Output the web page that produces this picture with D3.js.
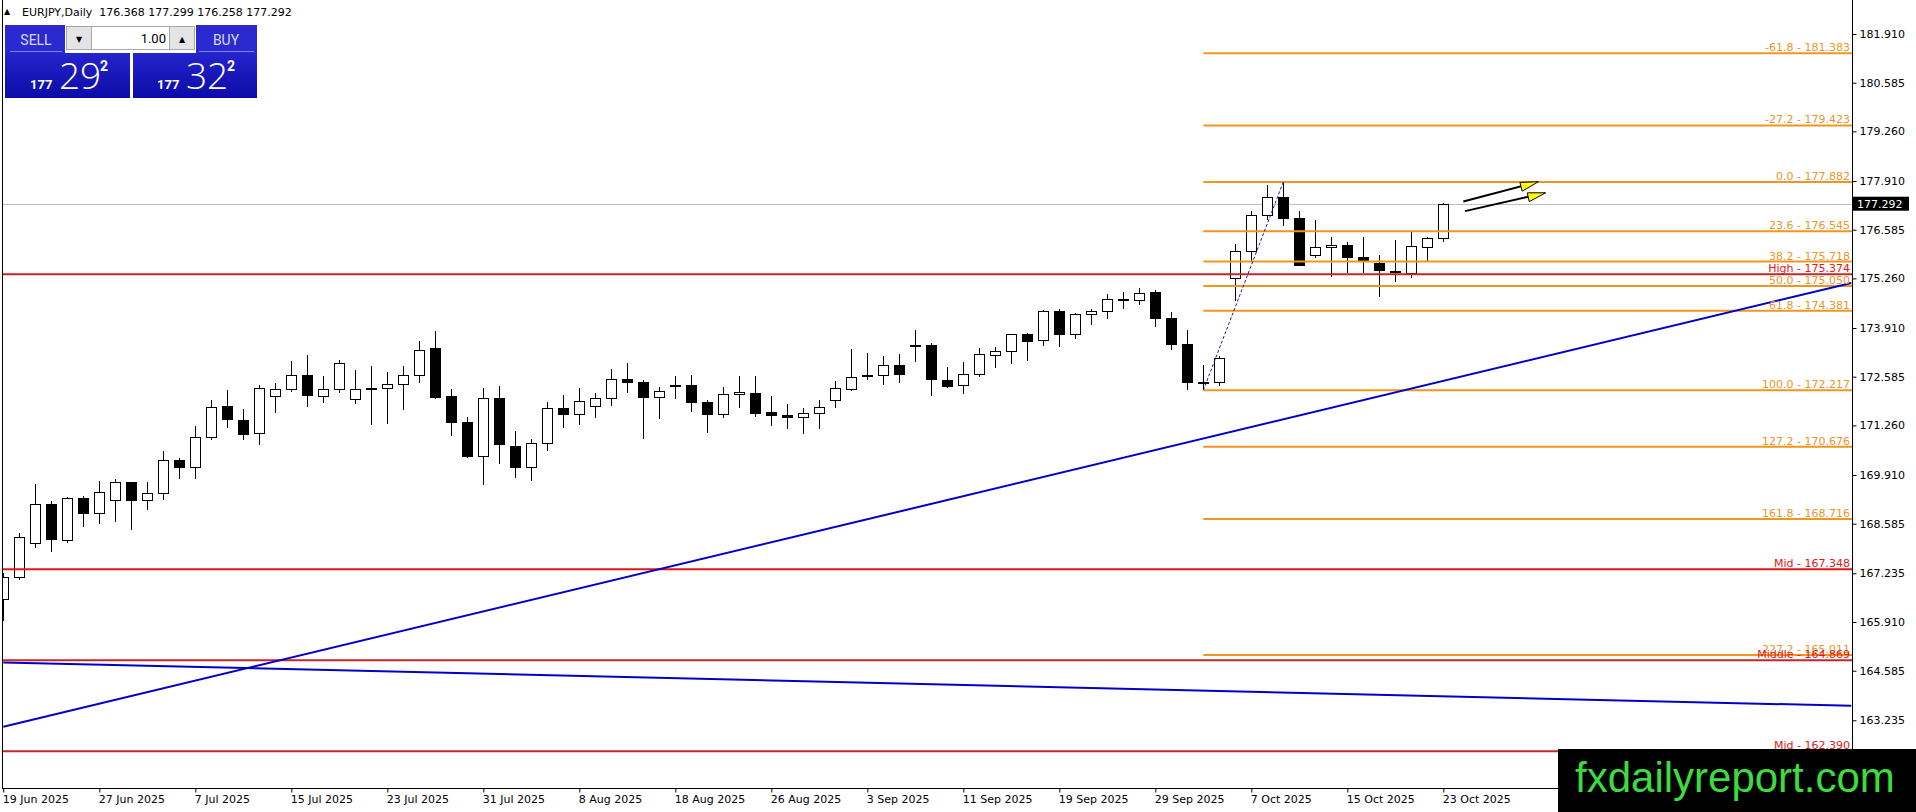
<!DOCTYPE html>
<html>
<head>
<meta charset="utf-8">
<script src="https://cdn.jsdelivr.net/npm/d3@7"></script>
<style>
body { margin: 0; background: #fff; overflow: hidden; }
svg { display: block; font-family: "DejaVu Sans", sans-serif; }
</style>
</head>
<body>
<svg id="chart" width="1916" height="812"></svg>
<script>
// EURJPY daily candles, 19 Jun 2025 .. 23 Oct 2025
const opens = [166.53,167.13,168.05,169.11,168.15,169.28,168.87,169.22,169.71,169.22,
  169.41,170.31,170.12,170.94,171.79,171.41,171.04,172.04,172.24,172.62,
  172.05,172.24,171.97,172.27,172.26,172.38,172.62,173.36,172.05,171.34,
  170.42,172.00,170.69,170.12,170.77,171.72,171.56,171.77,172.00,172.51,
  172.44,172.02,172.37,172.35,171.89,171.56,172.11,172.13,171.62,171.54,
  171.48,171.58,171.94,172.27,172.62,172.62,172.89,173.43,173.44,172.49,
  172.35,172.65,173.17,173.28,173.74,173.56,174.36,173.74,174.28,174.36,
  174.69,174.66,174.88,174.18,173.47,172.43,172.43,175.26,176.00,176.98,
  177.47,176.91,175.89,176.11,176.16,175.83,175.68,175.46,175.40,176.13,176.368];
const highs = [167.24,168.32,169.67,169.19,169.30,169.34,169.74,169.80,169.72,169.71,
  170.56,170.36,171.24,171.95,172.22,171.70,172.35,172.41,173.01,173.18,
  172.60,173.03,172.77,172.88,172.70,172.88,173.56,173.83,172.25,171.48,
  172.27,172.32,171.10,170.88,171.89,172.09,172.27,172.13,172.79,172.96,
  172.49,172.30,172.60,172.62,171.94,172.30,172.60,172.60,172.06,171.84,
  171.72,171.94,172.46,173.34,173.22,173.14,173.19,173.85,173.49,172.85,
  172.98,173.37,173.38,173.74,173.78,174.40,174.42,174.32,174.42,174.84,
  174.89,175.00,174.94,174.34,173.86,172.89,173.16,176.20,177.08,177.80,
  177.882,177.08,176.85,176.38,176.25,176.38,175.89,176.30,176.52,176.39,177.299];
const lows = [165.95,167.04,167.93,167.82,168.07,168.49,168.57,168.64,168.40,168.97,
  169.24,169.79,169.81,170.86,171.20,170.87,170.73,171.61,172.18,171.77,
  171.88,172.15,171.85,171.28,171.31,171.69,172.41,171.99,170.98,170.38,
  169.65,170.22,169.84,169.76,170.55,171.20,171.28,171.47,171.80,172.15,
  170.90,171.44,171.99,171.63,171.04,171.45,171.74,171.50,171.25,171.17,
  171.03,171.17,171.72,172.19,172.49,172.37,172.42,172.99,172.07,172.29,
  172.12,172.57,172.83,172.94,173.02,173.43,173.40,173.62,173.98,174.15,
  174.42,174.53,173.93,173.32,172.22,172.217,172.33,174.65,175.72,176.85,
  176.69,175.62,175.82,175.29,175.40,175.40,174.74,175.17,175.28,175.74,176.258];
const closes = [167.13,168.23,169.11,168.15,169.28,168.87,169.44,169.71,169.21,169.41,
  170.31,170.11,170.94,171.75,171.43,171.04,172.27,172.24,172.62,172.07,
  172.24,172.95,172.24,172.25,172.38,172.62,173.30,172.04,171.33,170.41,
  172.00,170.74,170.11,170.77,171.72,171.56,171.92,172.00,172.51,172.42,
  172.02,172.19,172.36,171.88,171.56,172.11,172.16,171.58,171.53,171.48,
  171.59,171.75,172.27,172.59,172.59,172.89,172.64,173.46,172.51,172.34,
  172.65,173.19,173.28,173.74,173.55,174.36,173.73,174.28,174.36,174.70,
  174.70,174.85,174.16,173.47,172.43,172.45,173.08,176.00,176.98,177.47,
  176.91,175.64,176.11,176.16,175.82,175.74,175.48,175.42,176.13,176.368,177.292];

const dateLabels = ["19 Jun 2025","27 Jun 2025","7 Jul 2025","15 Jul 2025","23 Jul 2025",
  "31 Jul 2025","8 Aug 2025","18 Aug 2025","26 Aug 2025","3 Sep 2025","11 Sep 2025",
  "19 Sep 2025","29 Sep 2025","7 Oct 2025","15 Oct 2025","23 Oct 2025"];
const priceTicks = [181.910,180.585,179.260,177.910,176.585,175.260,173.910,172.585,
  171.260,169.910,168.585,167.235,165.910,164.585,163.235];

// fibonacci retracement: anchored low (bar 75) -> high (bar 80)
const fibLevels = [-61.8,-27.2,0.0,23.6,38.2,50.0,61.8,100.0,127.2,161.8,227.2];
const fibPrices = [181.383,179.423,177.882,176.545,175.718,175.050,174.381,172.217,170.676,168.716,165.011];
const fibFrom = 75, fibTo = 80;

// red horizontal levels
const levelNames = ["High","Mid","Middle","Mid"];
const levelPrices = [175.374,167.348,164.869,162.390];
const levelColors = ["#c4262b","#e41414","#c4262b","#c4262b"];

// blue trend lines, two anchors each: [bar, price]
const trendLines = [
  [[0,163.06],[90,172.47]],
  [[0,164.81],[90,163.89]]
];
// the two forecast arrows: [bar, price] start and end
const arrows = [
  [[91.25,177.35],[95.94,177.89]],
  [[91.36,177.09],[96.40,177.59]]
];

const bidPrice = 177.292, askPrice = 177.322;

const svg = d3.select("#chart");
const left = 3, right = 1852, bottom = 788;

const x = d3.scaleLinear().domain([0, 115.5]).range([3.3, 1851.3]);
const y = d3.scaleLinear().domain([161.393, 182.835]).range([bottom, 0]);

svg.append("rect").attr("width", 1916).attr("height", 812).attr("fill", "#fff");

svg.append("clipPath").attr("id", "plot")
  .append("rect").attr("x", left).attr("y", 0).attr("width", right - left).attr("height", bottom);

const plot = svg.append("g").attr("clip-path", "url(#plot)");

// bid line
plot.append("line")
  .attr("x1", left).attr("x2", right)
  .attr("y1", Math.round(y(bidPrice)) + 0.5).attr("y2", Math.round(y(bidPrice)) + 0.5)
  .attr("stroke", "#c0c0c0");

// candles
const candles = opens.map((o, i) => ({i, o, h: highs[i], l: lows[i], c: closes[i]}));
const cg = plot.append("g").attr("shape-rendering", "crispEdges");
cg.selectAll("line").data(candles).enter().append("line")
  .attr("x1", d => Math.round(x(d.i)) + 0.5).attr("x2", d => Math.round(x(d.i)) + 0.5)
  .attr("y1", d => y(d.h)).attr("y2", d => y(d.l))
  .attr("stroke", "#000");
cg.selectAll("rect").data(candles).enter().append("rect")
  .attr("x", d => Math.round(x(d.i)) - 4.5)
  .attr("width", 10)
  .attr("y", d => Math.round(y(Math.max(d.o, d.c))) + 0.5)
  .attr("height", d => Math.max(1, Math.round(Math.abs(y(d.o) - y(d.c)))))
  .attr("fill", d => d.c >= d.o ? "#fff" : "#000")
  .attr("stroke", "#000");

// red levels
levelPrices.forEach((p, k) => {
  plot.append("line")
    .attr("x1", left).attr("x2", right).attr("y1", y(p)).attr("y2", y(p))
    .attr("stroke", levelColors[k]).attr("stroke-width", 2);
});

// fib lines
fibPrices.forEach(p => {
  plot.append("line")
    .attr("x1", x(fibFrom)).attr("x2", right).attr("y1", y(p)).attr("y2", y(p))
    .attr("stroke", "#f0961e").attr("stroke-width", 2);
});

// fib base line (dotted)
plot.append("line")
  .attr("x1", x(fibFrom)).attr("y1", y(fibPrices[7]))
  .attr("x2", x(fibTo)).attr("y2", y(fibPrices[2]))
  .attr("stroke", "#1a1aa0").attr("stroke-dasharray", "3,2");

// trend lines, extended across the plot
trendLines.forEach(([a, b]) => {
  const slope = (b[1] - a[1]) / (b[0] - a[0]);
  const [d0, d1] = x.domain();
  plot.append("line")
    .attr("x1", x(d0)).attr("y1", y(a[1] + slope * (d0 - a[0])))
    .attr("x2", x(d1)).attr("y2", y(a[1] + slope * (d1 - a[0])))
    .attr("stroke", "#0000c8").attr("stroke-width", 2);
});

// arrows
arrows.forEach(([a, b]) => {
  const x0 = x(a[0]), y0 = y(a[1]), x1 = x(b[0]), y1 = y(b[1]);
  const len = Math.hypot(x1 - x0, y1 - y0);
  const ux = (x1 - x0) / len, uy = (y1 - y0) / len;
  const nx = -uy, ny = ux;
  plot.append("line")
    .attr("x1", x0).attr("y1", y0).attr("x2", x1 - ux * 8).attr("y2", y1 - uy * 8)
    .attr("stroke", "#000").attr("stroke-width", 2);
  const bx = x1 - ux * 18, by = y1 - uy * 18;
  plot.append("path")
    .attr("d", `M${x1},${y1}L${bx + nx * 5},${by + ny * 5}L${bx - nx * 4},${by - ny * 4}Z`)
    .attr("fill", "#ffff00").attr("stroke", "#000").attr("stroke-width", 1);
});

// level labels
const labels = svg.append("g").attr("font-size", 11).attr("text-anchor", "end");
fibPrices.forEach((p, k) => {
  labels.append("text").attr("x", 1850).attr("y", y(p) - 2)
    .attr("fill", "#e8962e")
    .text(`${fibLevels[k].toFixed(1)} - ${p.toFixed(3)}`);
});
levelPrices.forEach((p, k) => {
  labels.append("text").attr("x", 1850).attr("y", y(p) - 2)
    .attr("fill", "#e01818")
    .text(`${levelNames[k]} - ${p.toFixed(3)}`);
});

// frame
const frame = svg.append("g").attr("stroke", "#000").attr("shape-rendering", "crispEdges");
frame.append("line").attr("x1", 2.5).attr("x2", 2.5).attr("y1", 0).attr("y2", bottom);
frame.append("line").attr("x1", 2).attr("x2", right + 1).attr("y1", bottom + 0.5).attr("y2", bottom + 0.5);
frame.append("line").attr("x1", right + 0.5).attr("x2", right + 0.5).attr("y1", 0).attr("y2", 812);

// price axis
const yAxis = svg.append("g")
  .attr("transform", `translate(${right + 0.5},0)`)
  .call(d3.axisRight(y).tickValues(priceTicks).tickFormat(d3.format(".3f")).tickSize(4).tickSizeOuter(0));
yAxis.select(".domain").remove();
yAxis.selectAll("text").attr("font-family", "DejaVu Sans").attr("font-size", 11).attr("fill", "#000");

// time axis
const xAxis = svg.append("g")
  .attr("transform", `translate(0,${bottom + 0.5})`)
  .call(d3.axisBottom(x).tickValues(dateLabels.map((d, k) => k * 6))
    .tickFormat((d, k) => dateLabels[k]).tickSize(4).tickSizeOuter(0));
xAxis.select(".domain").remove();
xAxis.selectAll("text").attr("font-family", "DejaVu Sans").attr("font-size", 11)
  .attr("fill", "#000").attr("text-anchor", "start").attr("x", -1);

// current price tag
const by0 = y(bidPrice);
svg.append("rect").attr("x", 1853).attr("y", by0 - 7).attr("width", 56).attr("height", 14).attr("fill", "#000");
svg.append("text").attr("x", 1857).attr("y", by0 + 4).attr("font-size", 11).attr("fill", "#fff")
  .text(bidPrice.toFixed(3));

// title
const last = candles[candles.length - 1];
svg.append("text").attr("x", 4).attr("y", 14).attr("font-size", 8).text("▲");
svg.append("text").attr("x", 22).attr("y", 16).attr("font-size", 11).attr("fill", "#000")
  .attr("xml:space", "preserve")
  .text(`EURJPY,Daily  ${last.o.toFixed(3)} ${last.h.toFixed(3)} ${last.l.toFixed(3)} ${last.c.toFixed(3)}`);

// one click trading panel
const defs = svg.append("defs");
const grad = defs.append("linearGradient").attr("id", "blueBox").attr("x1", 0).attr("x2", 0).attr("y1", 0).attr("y2", 1);
grad.append("stop").attr("offset", "0%").attr("stop-color", "#2424cc");
grad.append("stop").attr("offset", "100%").attr("stop-color", "#0c0ca6");

const panel = svg.append("g").attr("font-family", "Roboto, 'DejaVu Sans', sans-serif");
panel.append("rect").attr("x", 5).attr("y", 25).attr("width", 60).attr("height", 28).attr("fill", "#2a2ad0");
panel.append("rect").attr("x", 196).attr("y", 25).attr("width", 61).attr("height", 28).attr("fill", "#2a2ad0");
panel.append("line").attr("x1", 10).attr("x2", 62).attr("y1", 51.5).attr("y2", 51.5).attr("stroke", "#7a7aee");
panel.append("line").attr("x1", 199).attr("x2", 254).attr("y1", 51.5).attr("y2", 51.5).attr("stroke", "#7a7aee");
panel.append("rect").attr("x", 66.5).attr("y", 26.5).attr("width", 25).attr("height", 23).attr("fill", "#e4e4e4").attr("stroke", "#a8a8a8");
panel.append("rect").attr("x", 91.5).attr("y", 26.5).attr("width", 78).attr("height", 23).attr("fill", "#fff").attr("stroke", "#a8a8a8");
panel.append("rect").attr("x", 169.5).attr("y", 26.5).attr("width", 25).attr("height", 23).attr("fill", "#e4e4e4").attr("stroke", "#a8a8a8");
panel.append("text").attr("x", 79).attr("y", 42).attr("font-size", 8).attr("text-anchor", "middle").text("▼");
panel.append("text").attr("x", 182).attr("y", 42).attr("font-size", 8).attr("text-anchor", "middle").text("▲");
panel.append("text").attr("x", 166).attr("y", 43).attr("font-size", 13).attr("text-anchor", "end").text("1.00");
panel.append("text").attr("x", 36).attr("y", 45).attr("font-size", 14).attr("fill", "#d8d8ff").attr("text-anchor", "middle").text("SELL");
panel.append("text").attr("x", 226).attr("y", 45).attr("font-size", 14).attr("fill", "#d8d8ff").attr("text-anchor", "middle").text("BUY");
panel.append("rect").attr("x", 5).attr("y", 53).attr("width", 125).attr("height", 45).attr("fill", "url(#blueBox)");
panel.append("rect").attr("x", 133).attr("y", 53).attr("width", 124).attr("height", 45).attr("fill", "url(#blueBox)");

function quote(px, value) {
  const s = value.toFixed(3);
  const big = s.slice(0, 3), mid = s.slice(4, 6), pip = s.slice(6);
  panel.append("text").attr("x", px).attr("y", 89).attr("font-size", 13).attr("font-weight", "bold")
    .attr("fill", "#fff").text(big);
  panel.append("text").attr("x", px + 29).attr("y", 89).attr("font-size", 37).attr("font-weight", 300)
    .attr("font-family", "'Open Sans', sans-serif").attr("fill", "#fff").text(mid);
  panel.append("text").attr("x", px + 70).attr("y", 71).attr("font-size", 14).attr("font-weight", "bold")
    .attr("fill", "#fff").text(pip);
}
quote(30, bidPrice);
quote(157, askPrice);

// watermark
svg.append("rect").attr("x", 1558).attr("y", 749).attr("width", 358).attr("height", 63).attr("fill", "#000");
svg.append("text").attr("x", 1575).attr("y", 792).attr("font-family", "'Liberation Sans', Arial, sans-serif")
  .attr("font-size", 42).attr("fill", "#3ddc3d").text("fxdailyreport.com");
</script>
</body>
</html>
